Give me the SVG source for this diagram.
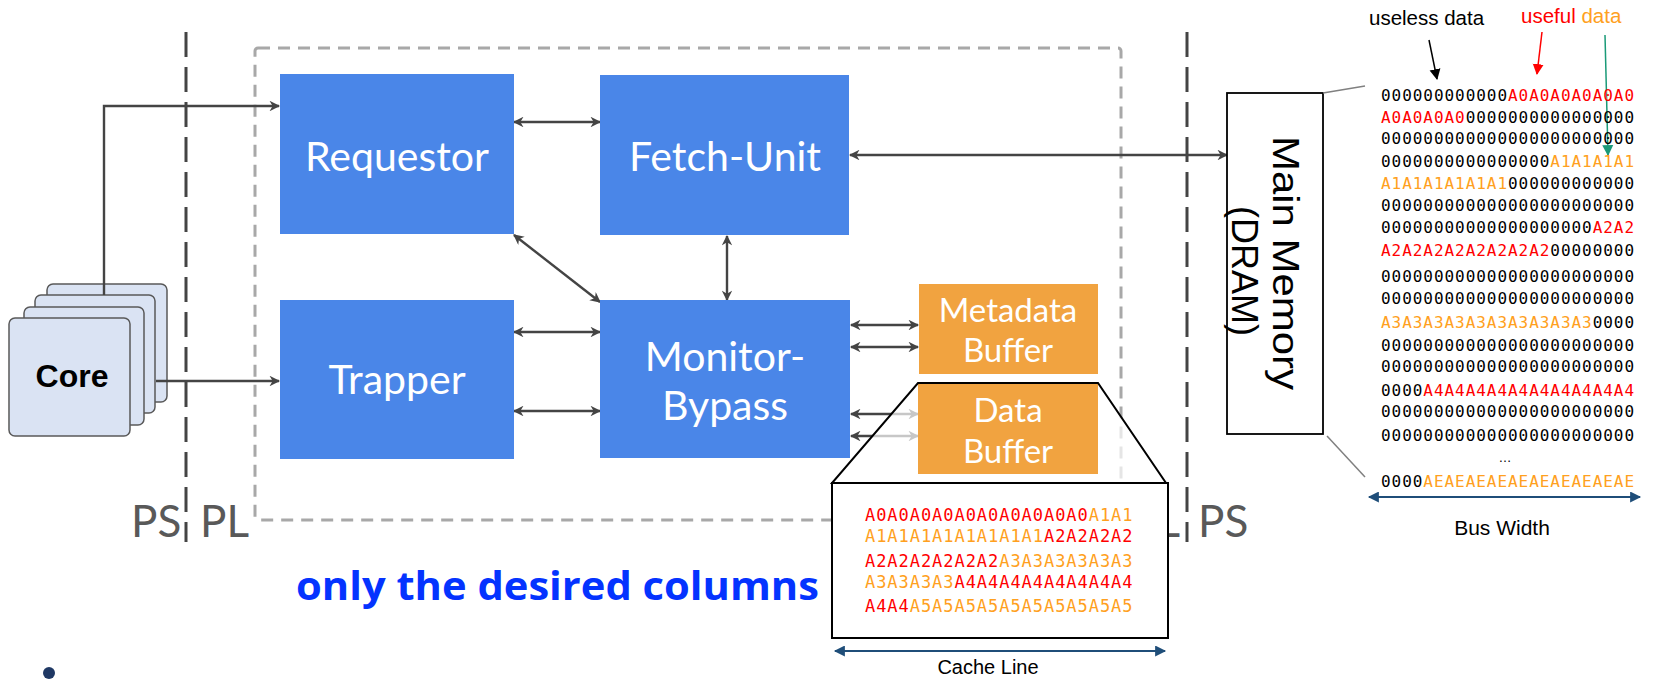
<svg xmlns="http://www.w3.org/2000/svg" width="1654" height="681" viewBox="0 0 1654 681">
<style>
  .blu{fill:#4a86e8}
  .org{fill:#f1a340}
  .lbl{font-family:Lato,"Open Sans",sans-serif;fill:#fff;text-anchor:middle}
  .big{font-size:41px}
  .mid{font-size:33px}
  .bi{stroke:#444;stroke-width:2.4;fill:none;marker-start:url(#ah);marker-end:url(#ah)}
  .uni{stroke:#444;stroke-width:2.4;fill:none;marker-end:url(#ah)}
  .zone{font-family:Lato,"Open Sans",sans-serif;font-size:44px;fill:#595959}
  .mono{font-family:"DejaVu Sans Mono","Liberation Mono",monospace}
  .mem{font-size:16px;letter-spacing:0.95px}
  .cl{font-size:17px;letter-spacing:0.95px}
  .r{fill:#ff0000}
  .o{fill:#ffa020}
  .k{fill:#000}
  .card{fill:#dae3f3;stroke:#595959;stroke-width:1.5}
  .sans{font-family:"Liberation Sans",Arial,sans-serif}
  .span{stroke:#1f4e79;stroke-width:2;fill:none;marker-start:url(#nv);marker-end:url(#nv)}
</style>
<defs>
  <marker id="ah" viewBox="0 0 10 10" refX="9" refY="5" markerWidth="5" markerHeight="4.4" orient="auto-start-reverse" markerUnits="strokeWidth">
    <path d="M0,0 L10,5 L0,10 L3,5 z" fill="#444"/>
  </marker>
  <marker id="nv" viewBox="0 0 10 10" refX="9" refY="5" markerWidth="12" markerHeight="11" orient="auto-start-reverse" markerUnits="userSpaceOnUse">
    <path d="M0,0 L10,5 L0,10 z" fill="#1f4e79"/>
  </marker>
  <marker id="hk" viewBox="0 0 10 10" refX="9" refY="5" markerWidth="11" markerHeight="12" orient="auto" markerUnits="userSpaceOnUse">
    <path d="M0,0 L10,5 L0,10 z" fill="#000"/>
  </marker>
  <marker id="hr" viewBox="0 0 10 10" refX="9" refY="5" markerWidth="11" markerHeight="12" orient="auto" markerUnits="userSpaceOnUse">
    <path d="M0,0 L10,5 L0,10 z" fill="#ff0000"/>
  </marker>
  <marker id="hg" viewBox="0 0 10 10" refX="9" refY="5" markerWidth="11" markerHeight="12" orient="auto" markerUnits="userSpaceOnUse">
    <path d="M0,0 L10,5 L0,10 z" fill="#1a9a78"/>
  </marker>
</defs>

<rect width="1654" height="681" fill="#fff"/>

<!-- programmable-logic region and PS/PL boundaries -->
<g id="regions">
  <rect x="255" y="48" width="866" height="472" rx="3" fill="none" stroke="#a8a8a8" stroke-width="3" stroke-dasharray="12 8"/>
  <line x1="186" y1="32" x2="186" y2="542" stroke="#444" stroke-width="3" stroke-dasharray="25 10"/>
  <line x1="1187" y1="32" x2="1187" y2="542" stroke="#444" stroke-width="3" stroke-dasharray="25 10"/>
  <text class="zone" x="131" y="537">PS</text>
  <text class="zone" x="200" y="537">PL</text>
  <text class="zone" x="1180" y="537" text-anchor="end">PL</text>
  <text class="zone" x="1198" y="537">PS</text>
</g>

<!-- processor cores -->
<g id="core">
  <rect class="card" x="47" y="284" width="120" height="118" rx="6"/>
  <rect class="card" x="35" y="295" width="120" height="118" rx="6"/>
  <rect class="card" x="24" y="307" width="120" height="118" rx="6"/>
  <rect class="card" x="9" y="318" width="121" height="118" rx="6"/>
  <text class="sans" x="72" y="387" font-size="32" font-weight="bold" text-anchor="middle" fill="#000">Core</text>
</g>

<g id="connectors">
  <path class="uni" d="M104,295 V106 H279"/>
  <path class="uni" d="M156,381 H279"/>
  <path class="bi" d="M514,122 H600"/>
  <path class="bi" d="M514,235 L600,302"/>
  <path class="bi" d="M727,236 V300"/>
  <path class="bi" d="M850,155 H1227"/>
  <path class="bi" d="M514,332 H600"/>
  <path class="bi" d="M514,411 H600"/>
  <path class="bi" d="M851,325 H918"/>
  <path class="bi" d="M851,347 H918"/>
  <path class="bi" d="M851,414 H918"/>
  <path class="bi" d="M851,436 H918"/>
</g>

<g id="requestor">
  <rect class="blu" x="280" y="74" width="234" height="160"/>
  <text class="lbl big" x="397" y="171">Requestor</text>
</g>

<g id="fetch-unit">
  <rect class="blu" x="600" y="75" width="249" height="160"/>
  <text class="lbl big" x="725" y="171">Fetch-Unit</text>
</g>

<g id="trapper">
  <rect class="blu" x="280" y="300" width="234" height="159"/>
  <text class="lbl big" x="397" y="394">Trapper</text>
</g>

<g id="monitor-bypass">
  <rect class="blu" x="600" y="300" width="250" height="158"/>
  <text class="lbl big" x="725" y="371">Monitor-</text>
  <text class="lbl big" x="725" y="420">Bypass</text>
</g>

<g id="metadata-buffer">
  <rect class="org" x="919" y="284" width="179" height="90"/>
  <text class="lbl mid" x="1008" y="322">Metadata</text>
  <text class="lbl mid" x="1008" y="362">Buffer</text>
</g>

<!-- magnified view of the data buffer -->
<polygon points="918,383 1098,383 1166,483 832,483" fill="#fff" fill-opacity="0.7"/>

<g id="data-buffer">
  <rect class="org" x="918" y="383" width="180" height="91"/>
  <text class="lbl mid" x="1008" y="422">Data</text>
  <text class="lbl mid" x="1008" y="463">Buffer</text>
</g>

<polygon points="918,383 1098,383 1166,483 832,483" fill="none" stroke="#000" stroke-width="2"/>

<g id="cache-line">
  <rect x="832" y="483" width="336" height="155" fill="#fff" stroke="#000" stroke-width="2"/>
  <text class="mono cl" x="865" y="521"><tspan class="r">A0A0A0A0A0A0A0A0A0A0</tspan><tspan class="o">A1A1</tspan></text>
  <text class="mono cl" x="865" y="542"><tspan class="o">A1A1A1A1A1A1A1A1</tspan><tspan class="r">A2A2A2A2</tspan></text>
  <text class="mono cl" x="865" y="567"><tspan class="r">A2A2A2A2A2A2</tspan><tspan class="o">A3A3A3A3A3A3</tspan></text>
  <text class="mono cl" x="865" y="588"><tspan class="o">A3A3A3A3</tspan><tspan class="r">A4A4A4A4A4A4A4A4</tspan></text>
  <text class="mono cl" x="865" y="612"><tspan class="r">A4A4</tspan><tspan class="o">A5A5A5A5A5A5A5A5A5A5</tspan></text>
  <path class="span" d="M835,651 H1165"/>
  <text class="sans" x="988" y="674" font-size="20" text-anchor="middle" fill="#000">Cache Line</text>
</g>

<g id="main-memory">
  <rect x="1227" y="93" width="96" height="341" fill="#fff" stroke="#000" stroke-width="1.8"/>
  <g transform="translate(1273 263) rotate(90)" class="sans" font-size="37" fill="#000" text-anchor="middle">
    <text x="0" y="0" textLength="254" lengthAdjust="spacingAndGlyphs">Main Memory</text>
    <text x="8" y="41" textLength="130" lengthAdjust="spacingAndGlyphs">(DRAM)</text>
  </g>
</g>

<!-- memory contents at bus width -->
<g id="memory-layout">
  <line x1="1323" y1="93" x2="1365" y2="86" stroke="#808080" stroke-width="1.5"/>
  <line x1="1327" y1="436" x2="1365" y2="477" stroke="#808080" stroke-width="1.5"/>
  <text class="sans" x="1369" y="25" font-size="20.5" fill="#000">useless data</text>
  <text class="sans" x="1521" y="23" font-size="20.5"><tspan fill="#ff0000">useful</tspan> <tspan fill="#ffa020">data</tspan></text>
  <line x1="1429" y1="40" x2="1437" y2="79" stroke="#000" stroke-width="1.5" marker-end="url(#hk)"/>
  <line x1="1542" y1="32" x2="1537" y2="74" stroke="#ff0000" stroke-width="1.5" marker-end="url(#hr)"/>
  <line x1="1605" y1="35" x2="1608" y2="155" stroke="#1a9a78" stroke-width="1.5" marker-end="url(#hg)"/>
  <g class="mono mem">
    <text x="1381" y="101"><tspan class="k">000000000000</tspan><tspan class="r">A0A0A0A0A0A0</tspan></text>
    <text x="1381" y="123"><tspan class="r">A0A0A0A0</tspan><tspan class="k">0000000000000000</tspan></text>
    <text x="1381" y="144" class="k">000000000000000000000000</text>
    <text x="1381" y="167"><tspan class="k">0000000000000000</tspan><tspan class="o">A1A1A1A1</tspan></text>
    <text x="1381" y="189"><tspan class="o">A1A1A1A1A1A1</tspan><tspan class="k">000000000000</tspan></text>
    <text x="1381" y="211" class="k">000000000000000000000000</text>
    <text x="1381" y="233"><tspan class="k">00000000000000000000</tspan><tspan class="r">A2A2</tspan></text>
    <text x="1381" y="256"><tspan class="r">A2A2A2A2A2A2A2A2</tspan><tspan class="k">00000000</tspan></text>
    <text x="1381" y="282" class="k">000000000000000000000000</text>
    <text x="1381" y="304" class="k">000000000000000000000000</text>
    <text x="1381" y="328"><tspan class="o">A3A3A3A3A3A3A3A3A3A3</tspan><tspan class="k">0000</tspan></text>
    <text x="1381" y="351" class="k">000000000000000000000000</text>
    <text x="1381" y="372" class="k">000000000000000000000000</text>
    <text x="1381" y="396"><tspan class="k">0000</tspan><tspan class="r">A4A4A4A4A4A4A4A4A4A4</tspan></text>
    <text x="1381" y="417" class="k">000000000000000000000000</text>
    <text x="1381" y="441" class="k">000000000000000000000000</text>
    <text x="1381" y="487"><tspan class="k">0000</tspan><tspan class="o">AEAEAEAEAEAEAEAEAEAE</tspan></text>
  </g>
  <text class="sans" x="1505" y="462" font-size="13" text-anchor="middle" fill="#000">…</text>
  <path class="span" d="M1369,497 H1640"/>
  <text class="sans" x="1502" y="535" font-size="21" text-anchor="middle" fill="#000">Bus Width</text>
</g>

<text x="296" y="600" font-family="'Open Sans',Lato,sans-serif" font-weight="bold" font-size="39" fill="#0433ff" textLength="523" lengthAdjust="spacingAndGlyphs">only the desired columns</text>

<circle cx="49" cy="673" r="6" fill="#1f3864"/>
</svg>
